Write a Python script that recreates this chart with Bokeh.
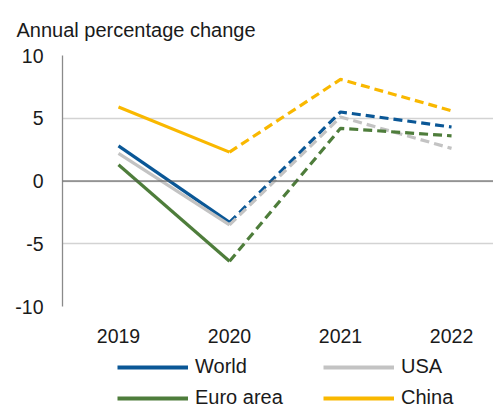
from bokeh.plotting import figure
from bokeh.layouts import column
from bokeh.models import Range1d, FixedTicker, Span, Legend, LegendItem
from bokeh.embed import file_html
from bokeh.resources import INLINE

years = [2019, 2020, 2021, 2022]
world = [2.8, -3.3, 5.5, 4.3]
usa = [2.2, -3.5, 5.1, 2.6]
euro = [1.3, -6.4, 4.2, 3.6]
china = [5.9, 2.3, 8.1, 5.6]
names = ["World", "USA", "Euro area", "China"]
colors = ["#0a5796", "#c3c3c3", "#4e7d3b", "#f9b800"]
y_ticks = [-10, -5, 0, 5, 10]
y_labels = {-10: "-10", -5: "-5", 0: "0", 5: "5", 10: "10"}

FONT = "Liberation Sans"
TXT = "#1a1a1a"

p = figure(width=493, height=348, output_backend="svg", toolbar_location=None,
           x_range=Range1d(2018.4955, 2022.378), y_range=Range1d(-10, 10),
           min_border_left=62, min_border_right=0, min_border_top=55, min_border_bottom=42,
           title="Annual percentage change")
p.outline_line_color = None

p.title.align = "left"
p.title.offset = -46
p.title.text_font = FONT
p.title.text_font_size = "20px"
p.title.text_font_style = "normal"
p.title.text_color = TXT
p.title.standoff = 30

p.xgrid.grid_line_color = None
p.ygrid.ticker = FixedTicker(ticks=y_ticks)
p.ygrid.grid_line_color = "#d3d3d3"
p.ygrid.grid_line_width = 1.3

p.yaxis.ticker = FixedTicker(ticks=y_ticks)
p.yaxis.major_label_overrides = y_labels
p.yaxis.axis_line_color = "#8a8a8a"
p.yaxis.axis_line_width = 1.3
p.yaxis.major_tick_line_color = None
p.yaxis.minor_tick_line_color = None
p.yaxis.major_tick_out = 0
p.yaxis.minor_tick_out = 0
p.yaxis.major_label_standoff = 19
p.yaxis.major_label_text_font = FONT
p.yaxis.major_label_text_font_size = "19.5px"
p.yaxis.major_label_text_color = TXT

p.xaxis.ticker = FixedTicker(ticks=years)
p.xaxis.axis_line_color = None
p.xaxis.major_tick_line_color = None
p.xaxis.minor_tick_line_color = None
p.xaxis.major_tick_out = 0
p.xaxis.minor_tick_out = 0
p.xaxis.major_label_standoff = 22
p.xaxis.major_label_text_font = FONT
p.xaxis.major_label_text_font_size = "19.5px"
p.xaxis.major_label_text_color = TXT

p.add_layout(Span(location=0, dimension="width", line_color="#555555", line_width=1.2))

for vals, col in zip([world, usa, euro, china], colors):
    p.line(years[:2], vals[:2], line_color=col, line_width=3.2)
    p.line(years[1:], vals[1:], line_color=col, line_width=3.2, line_dash="9 5")

# legend strip below the chart (its lines lie outside its own range; only legend glyphs show)
lg = figure(width=493, height=60, output_backend="svg", toolbar_location=None,
            x_range=Range1d(0, 1), y_range=Range1d(0, 1),
            min_border_left=0, min_border_right=0, min_border_top=0, min_border_bottom=0)
lg.outline_line_color = None
lg.axis.visible = False
lg.grid.visible = False
items = []
for name, vals, col in zip(names, [world, usa, euro, china], colors):
    r = lg.line(years[:2], vals[:2], line_color=col, line_width=4)
    items.append(LegendItem(label=name, renderers=[r]))

legend = Legend(items=items, ncols=2, location=(55, -1), orientation="horizontal",
                glyph_width=71, glyph_height=22, label_standoff=7, label_width=120,
                label_height=22, spacing=8, padding=0, margin=0,
                label_text_font=FONT, label_text_font_size="20px", label_text_color=TXT,
                border_line_color=None, background_fill_alpha=0)
lg.add_layout(legend, "center")

layout = column(p, lg, spacing=0)
open("out.html", "w").write(file_html(layout, INLINE))
